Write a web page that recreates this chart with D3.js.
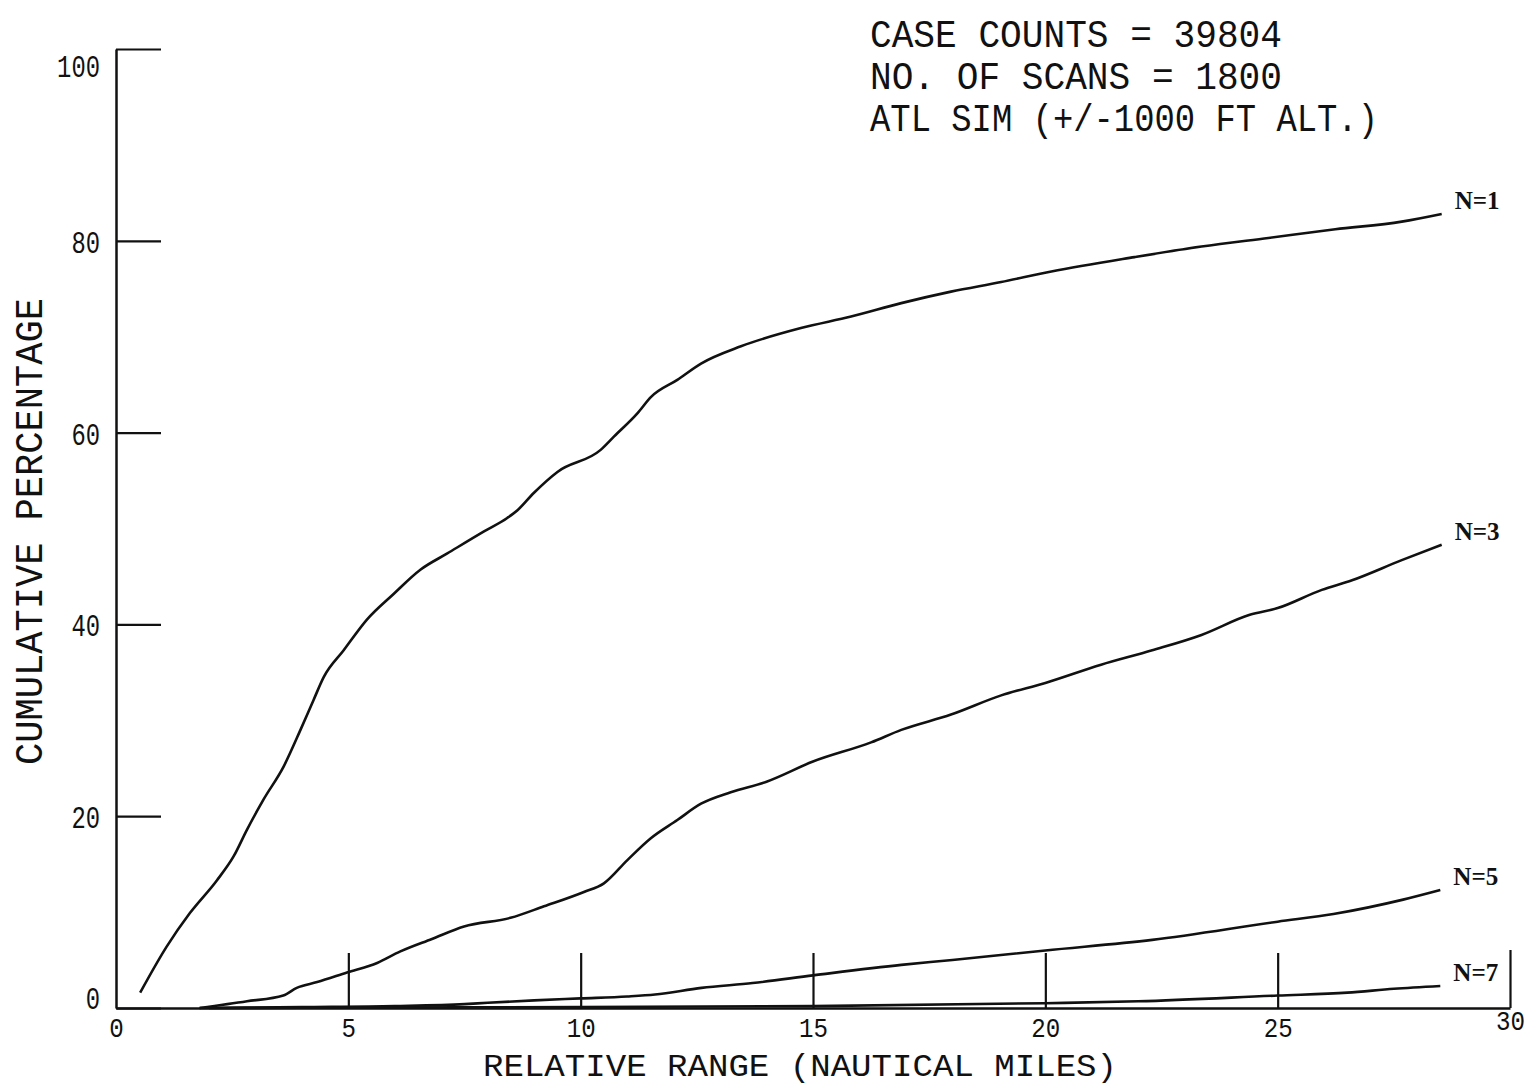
<!DOCTYPE html>
<html>
<head>
<meta charset="utf-8">
<script src="https://cdn.jsdelivr.net/npm/d3@7"></script>
<style>
  html, body { margin: 0; padding: 0; background: #fff; }
  svg { display: block; }
</style>
</head>
<body>
<script>
// ---- data ----
const xTicks = [0, 5, 10, 15, 20, 25, 30];
const yTicks = [0, 20, 40, 60, 80, 100];
const seriesNames = ["N=1", "N=3", "N=5", "N=7"];

const seriesN1 = [[0.52,1.6],[1.09,6.4],[1.59,9.9],[2.17,13.3],[2.53,15.8],[2.82,18.6],[3.17,21.7],[3.61,25.2],[3.97,29.0],[4.25,32.1],[4.47,34.5],[4.90,37.3],[5.40,40.5],[5.98,43.2],[6.55,45.7],[7.13,47.4],[7.92,49.7],[8.42,51.1],[8.64,51.9],[8.99,53.7],[9.50,55.9],[10.43,58.2],[10.72,59.6],[11.22,62.0],[11.51,63.7],[12.08,65.5],[12.59,67.2],[13.45,69.0],[14.74,70.9],[15.82,72.1],[16.9,73.5],[17.97,74.7],[19.05,75.7],[20.13,76.8],[21.92,78.3],[23.36,79.4],[24.8,80.3],[26.24,81.2],[27.67,82.0],[28.53,82.8]];
const seriesN3 = [[1.8,0.0],[2.82,0.7],[3.6,1.3],[3.89,2.1],[4.33,2.7],[4.97,3.7],[5.62,4.7],[6.12,5.9],[6.8,7.2],[7.49,8.5],[8.49,9.4],[9.21,10.6],[10.07,12.1],[10.5,13.0],[11.0,15.4],[11.51,17.7],[12.08,19.6],[12.59,21.3],[13.23,22.5],[14.0,23.6],[15.0,25.7],[16.25,27.7],[16.9,29.0],[17.97,30.6],[19.05,32.6],[20.0,33.9],[21.2,35.8],[22.3,37.3],[23.36,38.9],[24.4,41.0],[25.0,41.7],[25.95,43.6],[26.6,44.6],[27.67,46.7],[28.53,48.3]];
const seriesN5 = [[1.8,0.0],[4.0,0.1],[6.0,0.2],[7.5,0.4],[8.0,0.55],[9.0,0.8],[10.0,1.0],[11.0,1.2],[11.6,1.4],[12.6,2.1],[13.7,2.6],[15.0,3.4],[16.9,4.5],[18.0,5.0],[20.0,6.0],[22.3,7.1],[25.0,9.0],[26.2,9.8],[27.7,11.3],[28.5,12.3]];
const seriesN7 = [[2.0,0.0],[5.0,0.05],[10.0,0.1],[15.0,0.2],[20.0,0.5],[22.0,0.7],[25.0,1.3],[26.5,1.6],[27.5,2.0],[28.5,2.3]];

const infoLines = ["CASE COUNTS = 39804", "NO. OF SCANS = 1800", "ATL SIM (+/-1000 FT ALT.)"];
const xTitle = "RELATIVE RANGE (NAUTICAL MILES)";
const yTitle = "CUMULATIVE PERCENTAGE";

// ---- drawing ----
const W = 1531, H = 1087;
const ink = "#111";
const plot = "'Liberation Mono', 'DejaVu Sans Mono', monospace";

const svg = d3.select("body").append("svg").attr("width", W).attr("height", H);

const x = d3.scaleLinear().domain([0, 30]).range([116, 1510]);
const y = d3.scaleLinear().domain([0, 100]).range([1008, 49]);

// Y axis: ticks pointing into the plot
const gy = svg.append("g").attr("transform", `translate(${x(0)},0)`)
  .call(d3.axisLeft(y).tickValues(yTicks).tickSizeInner(-45).tickSizeOuter(0).tickPadding(16).tickFormat(d3.format("d")));
gy.selectAll("path.domain").attr("stroke", ink).attr("stroke-width", 2.5);
gy.selectAll(".tick line").attr("stroke", ink).attr("stroke-width", 2.2);
gy.selectAll(".tick text")
  .attr("fill", ink).attr("font-family", plot).attr("font-size", 32)
  .attr("textLength", d => String(d).length * 14.3).attr("lengthAdjust", "spacingAndGlyphs")
  .attr("dy", "0.36em")
  .attr("y", d => Math.min(Math.max(y(d), 65), 997) - y(d));

// X axis: ticks pointing up
const gx = svg.append("g").attr("transform", `translate(0,${y(0)})`)
  .call(d3.axisBottom(x).tickValues(xTicks).tickSizeInner(-55).tickSizeOuter(0).tickPadding(10).tickFormat(d3.format("d")));
gx.selectAll("path.domain").attr("stroke", ink).attr("stroke-width", 2.5);
gx.selectAll(".tick line").attr("stroke", ink).attr("stroke-width", 2.2)
  .attr("y2", d => d === 30 ? -58 : (d === 0 ? 0 : -55));
gx.selectAll(".tick text")
  .attr("fill", ink).attr("font-family", plot).attr("font-size", 27)
  .attr("textLength", d => String(d).length * 14.5).attr("lengthAdjust", "spacingAndGlyphs")
  .attr("y", d => d === 30 ? 3 : 10);

// Curves
const line = d3.line().x(d => x(d[0])).y(d => y(d[1])).curve(d3.curveMonotoneX);
const allSeries = [seriesN1, seriesN3, seriesN5, seriesN7];
svg.append("g").selectAll("path").data(allSeries).join("path")
  .attr("d", line).attr("fill", "none").attr("stroke", ink).attr("stroke-width", 2.6)
  .attr("stroke-linejoin", "round");

// Curve labels
svg.append("g").selectAll("text").data(allSeries).join("text")
  .attr("x", d => x(d[d.length - 1][0]) + 13)
  .attr("y", d => y(d[d.length - 1][1]) - 14)
  .attr("dy", "0.35em")
  .attr("font-family", "'Liberation Serif', 'DejaVu Serif', serif")
  .attr("font-size", 25).attr("font-weight", "bold").attr("fill", ink)
  .attr("textLength", 45).attr("lengthAdjust", "spacingAndGlyphs")
  .text((d, i) => seriesNames[i]);

// Info block
const infoWidths = [412, 412, 508];
svg.append("g").selectAll("text").data(infoLines).join("text")
  .attr("x", 870).attr("y", (d, i) => 47 + i * 42)
  .attr("font-family", plot).attr("font-size", 38).attr("fill", ink)
  .attr("textLength", (d, i) => infoWidths[i]).attr("lengthAdjust", "spacingAndGlyphs")
  .text(d => d);

// Axis titles
svg.append("text")
  .attr("x", 483).attr("y", 1076)
  .attr("font-family", plot).attr("font-size", 31).attr("fill", ink)
  .attr("textLength", 634).attr("lengthAdjust", "spacingAndGlyphs")
  .text(xTitle);

svg.append("text")
  .attr("transform", "translate(42,765) rotate(-90)")
  .attr("font-family", plot).attr("font-size", 38).attr("fill", ink)
  .attr("textLength", 467).attr("lengthAdjust", "spacingAndGlyphs")
  .text(yTitle);
</script>
</body>
</html>
